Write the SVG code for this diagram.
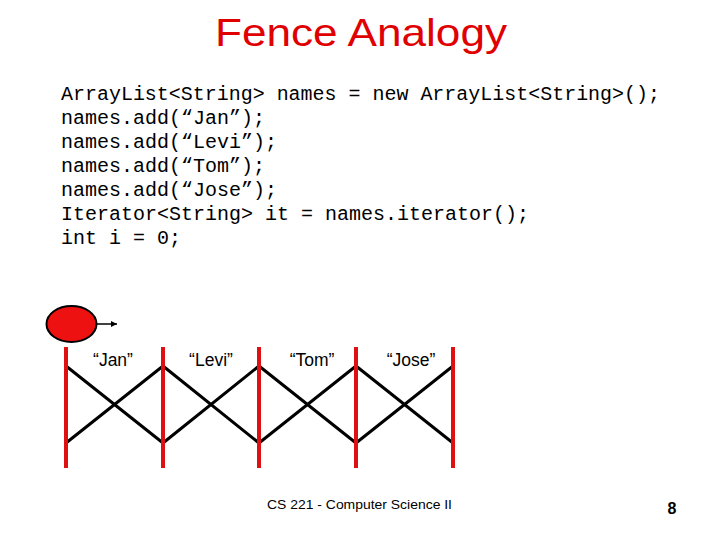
<svg xmlns="http://www.w3.org/2000/svg" width="720" height="540" viewBox="0 0 720 540">
<defs>
<style>
.title{font-family:"Liberation Sans",Arial,sans-serif;font-size:39px;fill:#e00000}
.code{font-family:"Liberation Mono","Courier New",monospace;font-size:20px;fill:#000}
.lbl{font-family:"Liberation Sans",Arial,sans-serif;font-size:17.5px;fill:#000;text-anchor:middle}
.foot{font-family:"Liberation Sans",Arial,sans-serif;font-size:13px;fill:#000}
.post{stroke:#dd1111;stroke-width:4}
.rail{stroke:#000;stroke-width:3;fill:none}
</style>
<marker id="ah" viewBox="0 0 10 10" refX="10" refY="5" markerWidth="6" markerHeight="6" orient="auto" markerUnits="userSpaceOnUse">
<path d="M0,0 L10,5 L0,10 z" fill="#000"/>
</marker>
</defs>
<rect width="720" height="540" fill="#fff"/>
<text class="title" x="215" y="46" textLength="292" lengthAdjust="spacingAndGlyphs">Fence Analogy</text>
<g id="code">
<text class="code" x="61" y="100" textLength="599" lengthAdjust="spacingAndGlyphs">ArrayList&lt;String&gt; names = new ArrayList&lt;String&gt;();</text>
<text class="code" x="61" y="124" textLength="204" lengthAdjust="spacingAndGlyphs">names.add(“Jan”);</text>
<text class="code" x="61" y="148" textLength="216" lengthAdjust="spacingAndGlyphs">names.add(“Levi”);</text>
<text class="code" x="61" y="172" textLength="204" lengthAdjust="spacingAndGlyphs">names.add(“Tom”);</text>
<text class="code" x="61" y="196" textLength="216" lengthAdjust="spacingAndGlyphs">names.add(“Jose”);</text>
<text class="code" x="61" y="220" textLength="468" lengthAdjust="spacingAndGlyphs">Iterator&lt;String&gt; it = names.iterator();</text>
<text class="code" x="61" y="244" textLength="120" lengthAdjust="spacingAndGlyphs">int i = 0;</text>
</g>
<g id="iterator">
<ellipse cx="71.5" cy="324" rx="25" ry="18" fill="#ee1111" stroke="#000" stroke-width="2"/>
</g>
<g id="connectors">
<line x1="97" y1="324" x2="117" y2="324" stroke="#000" stroke-width="1.5" marker-end="url(#ah)"/>
<path class="rail" d="M66,366 L163,443 L259,366 L356,443 L453,366"/>
<path class="rail" d="M66,443 L163,366 L259,443 L356,366 L453,443"/>
</g>
<g id="posts">
<line class="post" x1="66" y1="347" x2="66" y2="468"/>
<line class="post" x1="163" y1="347" x2="163" y2="468"/>
<line class="post" x1="259" y1="347" x2="259" y2="468"/>
<line class="post" x1="356" y1="347" x2="356" y2="468"/>
<line class="post" x1="453" y1="347" x2="453" y2="468"/>
</g>
<g id="labels">
<text class="lbl" x="113" y="366">“Jan”</text>
<text class="lbl" x="211" y="366">“Levi”</text>
<text class="lbl" x="312" y="366">“Tom”</text>
<text class="lbl" x="411" y="366">“Jose”</text>
</g>
<text class="foot" x="267" y="509" textLength="185" lengthAdjust="spacingAndGlyphs">CS 221 - Computer Science II</text>
<text x="672" y="514" text-anchor="middle" font-family="Liberation Sans,Arial,sans-serif" font-weight="bold" font-size="16">8</text>
</svg>
